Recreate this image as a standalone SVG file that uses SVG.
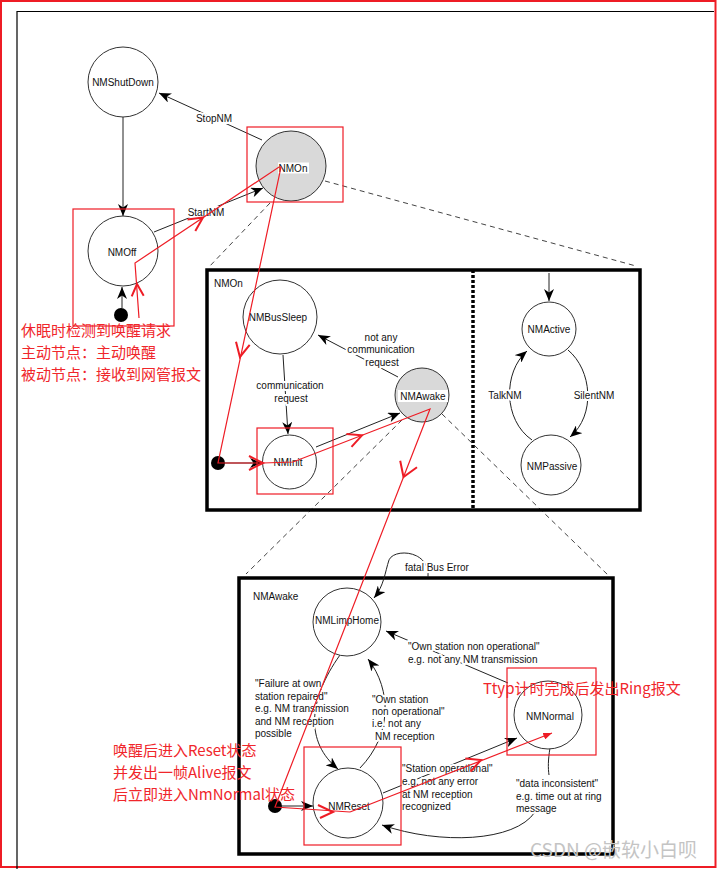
<svg xmlns="http://www.w3.org/2000/svg" width="717" height="869" viewBox="0 0 717 869">
<defs>
<marker id="arr" viewBox="0 0 12 10" refX="12" refY="5" markerWidth="12" markerHeight="10" markerUnits="userSpaceOnUse" orient="auto"><path d="M0,0 L12,5 L0,10 L3.5,5 Z" fill="#000"/></marker>
<marker id="rarr" viewBox="0 0 10 8" refX="10" refY="4" markerWidth="9" markerHeight="7" markerUnits="userSpaceOnUse" orient="auto"><path d="M0,0 L10,4 L0,8 Z" fill="#ee1c25"/></marker>
<style>
.t{font-family:"Liberation Sans",Arial,sans-serif;font-size:10px;fill:#111}
.m{text-anchor:middle}
.bg{paint-order:stroke;stroke:#fff;stroke-width:4px;stroke-linejoin:round}
.c{fill:#fff;stroke:#333;stroke-width:1}
.g{fill:#d9d9d9}
.ln{fill:none;stroke:#222;stroke-width:1}
.a{marker-end:url(#arr)}
.d{fill:none;stroke:#444;stroke-width:1;stroke-dasharray:5,4}
.box{fill:none;stroke:#000;stroke-width:3.5}
.r{fill:none;stroke:#ee1c25;stroke-width:1.2}
.rc{fill:none;stroke:#ee1c25;stroke-width:2}
.cn{font-family:"Noto Sans CJK SC","Noto Sans",sans-serif;font-size:15px;fill:#f0262b}
</style>
</defs>
<rect x="0" y="0" width="717" height="869" fill="#fff"/>
<rect x="1" y="1" width="714.5" height="866" fill="none" stroke="#ee1c25" stroke-width="2"/>
<path d="M17,870 L17,11.5 L714,11.5" fill="none" stroke="#000" stroke-width="1.2"/>

<g id="expansion-lines">
<line class="d" x1="270" y1="203" x2="208" y2="268"/>
<line class="d" x1="325" y1="181" x2="636" y2="266"/>
<line class="d" x1="402" y1="420" x2="246" y2="574"/>
<line class="d" x1="442" y1="414" x2="608" y2="575"/>
</g>

<g id="box-NMOn">
<rect class="box" x="207" y="270" width="433" height="240"/>
<line x1="473" y1="270" x2="473" y2="510" stroke="#000" stroke-width="3.5" stroke-dasharray="3,2"/>
<text class="t" x="214" y="287">NMOn</text>
</g>
<g id="box-NMAwake">
<rect class="box" x="239" y="578" width="374" height="276"/>
<text class="t" x="253" y="600">NMAwake</text>
</g>

<g id="connectors">
<line class="ln a" x1="123" y1="117" x2="123" y2="216"/>
<line class="ln a" x1="122" y1="308" x2="122" y2="287"/>
<line class="ln a" x1="262" y1="140" x2="159" y2="93"/>
<line class="ln a" x1="154" y1="232" x2="263" y2="188"/>
<line class="ln a" x1="283" y1="355" x2="288" y2="434"/>
<line class="ln a" x1="398" y1="377" x2="318" y2="335"/>
<line class="ln a" x1="316" y1="447" x2="400" y2="413"/>
<line class="ln a" x1="224" y1="463" x2="262" y2="463"/>
<line class="ln a" x1="549" y1="273" x2="549" y2="301"/>
<path class="ln a" d="M568,350 C592,370 596,415 570,437"/>
<path class="ln a" d="M532,440 C503,420 503,372 527,351"/>
<path class="ln a" d="M428,577 C430,550 394,548 389,560 C385,572 384,586 374,598"/>
<path class="ln a" d="M508,683 L386,631"/>
<path class="ln a" d="M360,768 C392,735 392,690 368,659"/>
<path class="ln a" d="M340,655 C308,700 305,742 338,769"/>
<line class="ln a" x1="383" y1="793" x2="517" y2="738"/>
<path class="ln" d="M550,748 C548,760 548,768 549,775"/>
<path class="ln a" d="M535,812 C515,842 440,845 382,825"/>
<line class="ln a" x1="282" y1="806" x2="313" y2="806"/>
</g>

<g id="edge-labels">
<text class="t m bg" x="214" y="122">StopNM</text>
<text class="t m bg" x="206" y="216">StartNM</text>
<text class="t m bg" x="290" y="389">communication</text>
<text class="t m bg" x="291" y="402">request</text>
<text class="t m bg" x="381" y="341">not any</text>
<text class="t m bg" x="381" y="353">communication</text>
<text class="t m bg" x="382" y="366">request</text>
<text class="t m bg" x="505" y="399">TalkNM</text>
<text class="t m bg" x="594" y="399">SilentNM</text>
<text class="t bg" x="405" y="571">fatal Bus Error</text>
<text class="t bg" x="408" y="650">"Own station non operational"</text>
<text class="t bg" x="408" y="663">e.g. not any NM transmission</text>
<text class="t bg" x="255" y="687">"Failure at own</text>
<text class="t bg" x="255" y="699.5">station repaired"</text>
<text class="t bg" x="255" y="712">e.g. NM transmission</text>
<text class="t bg" x="255" y="724.5">and NM reception</text>
<text class="t bg" x="255" y="737">possible</text>
<text class="t bg" x="372" y="703">"Own station</text>
<text class="t bg" x="372" y="715">non operational"</text>
<text class="t bg" x="372" y="727">i.e. not any</text>
<text class="t bg" x="375" y="740">NM reception</text>
<text class="t bg" x="402" y="772">"Station operational"</text>
<text class="t bg" x="402" y="785">e.g. not any error</text>
<text class="t bg" x="402" y="798">at NM reception</text>
<text class="t bg" x="402" y="810">recognized</text>
<text class="t bg" x="516" y="787">"data inconsistent"</text>
<text class="t bg" x="516" y="800">e.g. time out at ring</text>
<text class="t bg" x="516" y="812">message</text>
</g>

<g id="node-NMShutDown"><circle class="c" cx="123" cy="82" r="35"/><text class="t m" x="123" y="85.5">NMShutDown</text></g>
<g id="node-NMOn"><circle class="c g" cx="291" cy="166" r="35"/><rect x="278" y="162.5" width="31" height="11" fill="#fff"/><text class="t m" x="293" y="171.5">NMOn</text></g>
<g id="node-NMOff"><circle class="c" cx="123" cy="251" r="35"/><text class="t m" x="122" y="255.5">NMOff</text></g>
<g id="node-init1"><circle cx="121" cy="315" r="7" fill="#000"/></g>
<g id="node-NMBusSleep"><circle class="c" cx="280" cy="317" r="37"/><text class="t m" x="278" y="320.5">NMBusSleep</text></g>
<g id="node-NMInit"><circle class="c" cx="289.5" cy="462" r="27"/><text class="t m" x="288" y="466">NMInit</text></g>
<g id="node-init2"><circle cx="218" cy="463" r="7" fill="#000"/></g>
<g id="node-NMAwake"><circle class="c g" cx="422" cy="395" r="27"/><rect x="398" y="390" width="50" height="12" fill="#fff"/><text class="t m" x="423" y="399.5">NMAwake</text></g>
<g id="node-NMActive"><circle class="c" cx="549" cy="329" r="27"/><text class="t m" x="549" y="333">NMActive</text></g>
<g id="node-NMPassive"><circle class="c" cx="551" cy="465" r="30"/><text class="t m" x="552" y="470">NMPassive</text></g>
<g id="node-NMLimpHome"><circle class="c" cx="347" cy="622" r="34"/><text class="t m" x="347" y="624">NMLimpHome</text></g>
<g id="node-NMReset"><circle class="c" cx="348" cy="803" r="35"/><text class="t m" x="349" y="810">NMReset</text></g>
<g id="node-init3"><circle cx="275" cy="806" r="7" fill="#000"/></g>
<g id="node-NMNormal"><circle class="c" cx="548" cy="715" r="34"/><text class="t m" x="550" y="720">NMNormal</text></g>

<g id="annotations">
<rect class="r" x="73" y="209" width="101" height="117"/>
<rect class="r" x="247" y="127" width="96" height="75"/>
<rect class="r" x="257" y="428" width="76" height="66"/>
<rect class="r" x="304" y="747" width="97" height="98"/>
<rect class="r" x="507" y="668" width="89" height="87"/>
<polyline class="r" points="139,318 135,263 279,167 281,167 218,463 263,463 293,462 430,409 275,807 350,812" />
<line class="r" x1="350" y1="812" x2="552" y2="733" marker-end="url(#rarr)"/>
<polyline class="rc" points="131.7,296.3 137,284 143.7,295.7"/>
<polyline class="rc" points="195.3,231 203,217.4 187.5,219.4"/>
<polyline class="rc" points="249.7,344.8 239.9,357 236,341.8"/>
<polyline class="rc" points="249,456 263,463 249,470"/>
<polyline class="rc" points="351.5,446.9 362,435.3 346.4,433.9"/>
<polyline class="rc" points="417,467.3 403.5,477 400.2,460.7"/>
<polyline class="rc" points="318,805 333,812 320,818"/>
<polyline class="rc" points="470.5,771.6 481,760 465.4,758.6"/>
<text class="cn" x="21" y="336">休眠时检测到唤醒请求</text>
<text class="cn" x="21" y="358">主动节点：主动唤醒</text>
<text class="cn" x="21" y="380">被动节点：接收到网管报文</text>
<text class="cn" x="483" y="694">Ttyp计时完成后发出Ring报文</text>
<text class="cn" x="113" y="756">唤醒后进入Reset状态</text>
<text class="cn" x="113" y="778">并发出一帧Alive报文</text>
<text class="cn" x="113" y="800">后立即进入NmNormal状态</text>
</g>
<text x="530" y="857" font-family="'Noto Sans CJK SC','Noto Sans',sans-serif" font-size="19" fill="#c4c4c4">CSDN @嵌软小白呗</text>
</svg>
